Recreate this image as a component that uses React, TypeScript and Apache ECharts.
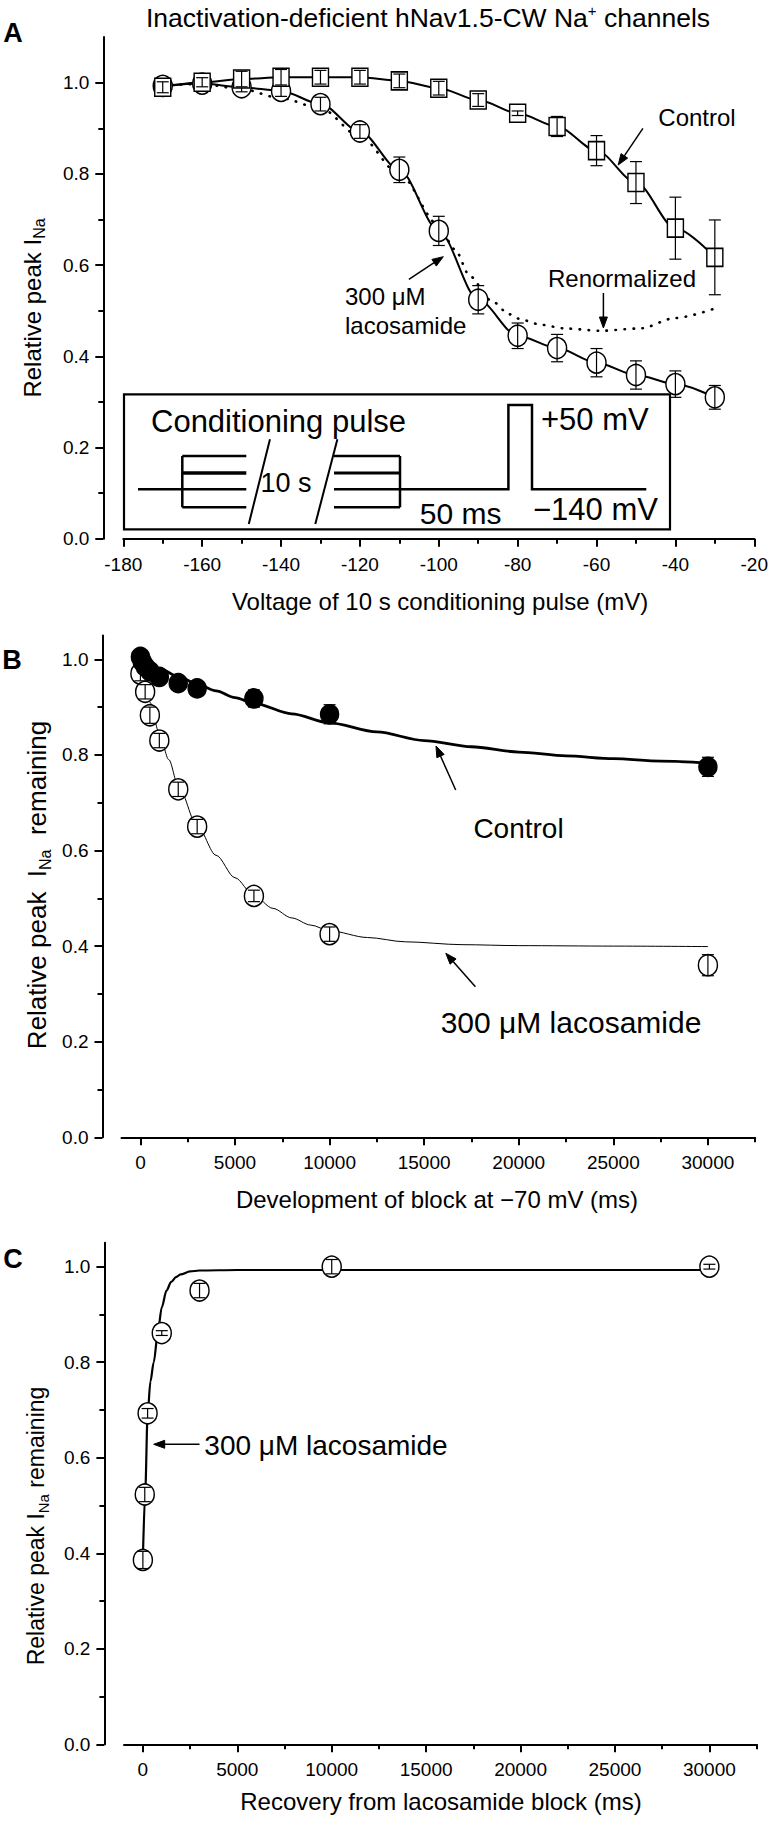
import React, { useEffect, useRef } from 'react';
import * as echarts from 'echarts';

const FONT = '"Liberation Sans", Arial, Helvetica, sans-serif';

// ---------- Panel A : voltage dependence ----------
const voltagesA = [-170, -160, -150, -140, -130, -120, -110, -100, -90, -80, -70, -60, -50, -40, -30];
const controlA = [0.990, 1.001, 1.008, 1.012, 1.012, 1.012, 1.004, 0.988, 0.962, 0.933, 0.904, 0.851, 0.781, 0.681, 0.617];
const controlAErr = [0.012, 0.01, 0.017, 0.017, 0.015, 0.015, 0.015, 0.015, 0.014, 0.005, 0.022, 0.033, 0.046, 0.068, 0.082];
const lacoA = [0.993, 0.998, 0.990, 0.982, 0.953, 0.893, 0.809, 0.675, 0.524, 0.445, 0.418, 0.386, 0.359, 0.339, 0.310];
const lacoAErr = [0.01, 0.005, 0.01, 0.012, 0.015, 0.015, 0.028, 0.032, 0.031, 0.028, 0.030, 0.031, 0.031, 0.029, 0.026];
const renormV = [-170, -160, -150, -140, -130, -120, -110, -100, -96, -92, -87, -82, -79, -74, -68, -59, -49, -40, -30];
const renormA = [0.995, 0.997, 0.986, 0.966, 0.944, 0.882, 0.800, 0.688, 0.635, 0.575, 0.524, 0.492, 0.480, 0.469, 0.461, 0.456, 0.461, 0.484, 0.505];
const xTicksA = [-180, -160, -140, -120, -100, -80, -60, -40, -20];
const xMinorA = [-170, -150, -130, -110, -90, -70, -50, -30];

// ---------- Panel B : development of block ----------
const timesBCtl = [0, 100, 250, 500, 1000, 2000, 3000, 6000, 10000, 30000];
const ctlB = [1.005, 0.995, 0.985, 0.975, 0.963, 0.950, 0.939, 0.918, 0.885, 0.775];
const ctlBErr = [0.01, 0.01, 0.01, 0.01, 0.01, 0.01, 0.012, 0.018, 0.02, 0.02];
const timesBLac = [0, 250, 500, 1000, 2000, 3000, 6000, 10000, 30000];
const lacB = [0.970, 0.932, 0.883, 0.830, 0.728, 0.650, 0.505, 0.425, 0.360];
const lacBErr = [0.015, 0.015, 0.017, 0.015, 0.015, 0.015, 0.012, 0.015, 0.022];
const fitTimesBCtl = [0, 1000, 2000, 3000, 4000, 5000, 6000, 8000, 10000, 12500, 15000, 17500, 20000, 22500, 25000, 27500, 30000];
const fitCtlB = [1.0, 0.981, 0.964, 0.948, 0.934, 0.920, 0.908, 0.886, 0.867, 0.848, 0.830, 0.817, 0.806, 0.798, 0.792, 0.787, 0.783];
const fitTimesBLac = [0, 250, 500, 1000, 1500, 2000, 3000, 4000, 5000, 6000, 7000, 8000, 9000, 10000, 12000, 14000, 17000, 20000, 25000, 30000];
const fitLacB = [0.99, 0.95, 0.91, 0.845, 0.79, 0.735, 0.652, 0.59, 0.543, 0.506, 0.479, 0.459, 0.444, 0.432, 0.418, 0.409, 0.403, 0.401, 0.400, 0.399];

// ---------- Panel C : recovery ----------
const timesC = [0, 100, 250, 1000, 3000, 10000, 30000];
const recC = [0.386, 0.523, 0.693, 0.861, 0.950, 1.0, 1.0];
const recCErr = [0.018, 0.015, 0.01, 0.005, 0.015, 0.015, 0.005];
const fitTimesC = [0, 125, 250, 400, 575, 800, 1000, 1250, 1500, 1750, 2000, 2500, 3000, 5000, 10000, 30000];
const fitC = [0.39, 0.53, 0.69, 0.76, 0.80, 0.865, 0.915, 0.95, 0.968, 0.978, 0.984, 0.99, 0.992, 0.993, 0.993, 0.993];

const xTicksMs = [0, 5000, 10000, 15000, 20000, 25000, 30000];
const xMinorMs = [2500, 7500, 12500, 17500, 22500, 27500, 32500];
const yTicks = [0, 0.2, 0.4, 0.6, 0.8, 1.0];
const yMinor = [0.1, 0.3, 0.5, 0.7, 0.9];

const pairs = (xs: number[], ys: number[]) => xs.map((x, i) => [x, ys[i]]);

function xAxisPair(grid: number, min: number, max: number, majors: number[], minors: number[]) {
  return [
    {
      type: 'value', gridIndex: grid, min, max, position: 'bottom',
      axisLine: { show: true, onZero: false, lineStyle: { color: '#000', width: 2 } },
      axisTick: { show: true, length: 8, lineStyle: { color: '#000', width: 2 }, customValues: majors },
      axisLabel: { show: true, customValues: majors, formatter: (v: number) => String(v), color: '#000', fontSize: 19, fontFamily: FONT, margin: 16 },
      splitLine: { show: false },
    },
    {
      type: 'value', gridIndex: grid, min, max, position: 'bottom',
      axisLine: { show: false, onZero: false },
      axisTick: { show: true, length: 5, lineStyle: { color: '#000', width: 2 }, customValues: minors },
      axisLabel: { show: false },
      splitLine: { show: false },
    },
  ];
}

function yAxisPair(grid: number, max: number, offset: number) {
  return [
    {
      type: 'value', gridIndex: grid, min: 0, max, position: 'left', offset,
      axisLine: { show: true, onZero: false, lineStyle: { color: '#000', width: 2 } },
      axisTick: { show: true, length: 8, lineStyle: { color: '#000', width: 2 }, customValues: yTicks },
      axisLabel: { show: true, customValues: yTicks, formatter: (v: number) => v.toFixed(1), color: '#000', fontSize: 19, fontFamily: FONT, margin: 14 },
      splitLine: { show: false },
    },
    {
      type: 'value', gridIndex: grid, min: 0, max, position: 'left', offset,
      axisLine: { show: false, onZero: false },
      axisTick: { show: true, length: 5, lineStyle: { color: '#000', width: 2 }, customValues: yMinor },
      axisLabel: { show: false },
      splitLine: { show: false },
    },
  ];
}

function errSeries(xs: number[], ys: number[], es: number[], axis: number, z: number) {
  return {
    type: 'custom', xAxisIndex: axis, yAxisIndex: axis, z, silent: true,
    data: xs.map((x, i) => [x, ys[i], es[i]]),
    encode: { x: 0, y: 1 },
    renderItem: (_p: any, api: any) => {
      const x = api.value(0), y = api.value(1), e = api.value(2);
      const t = api.coord([x, y + e]);
      const b = api.coord([x, y - e]);
      const hw = 6;
      const st = { stroke: '#000', lineWidth: 1.2, fill: 'none' };
      return {
        type: 'group',
        children: [
          { type: 'line', shape: { x1: t[0], y1: t[1], x2: b[0], y2: b[1] }, style: st },
          { type: 'line', shape: { x1: t[0] - hw, y1: t[1], x2: t[0] + hw, y2: t[1] }, style: st },
          { type: 'line', shape: { x1: b[0] - hw, y1: b[1], x2: b[0] + hw, y2: b[1] }, style: st },
        ],
      };
    },
  };
}

function lineSeries(xs: number[], ys: number[], axis: number, width: number, extra: any = {}) {
  return {
    type: 'line', xAxisIndex: axis, yAxisIndex: axis, z: 2, silent: true,
    data: pairs(xs, ys), showSymbol: false, symbol: 'none',
    smooth: 0.3, smoothMonotone: 'x',
    lineStyle: { color: '#000', width, ...extra },
  };
}

function scatterSeries(xs: number[], ys: number[], axis: number, symbol: string, size: any, fill: string, z: number) {
  return {
    type: 'scatter', xAxisIndex: axis, yAxisIndex: axis, z, silent: true,
    data: pairs(xs, ys), symbol, symbolSize: size,
    itemStyle: { color: fill, borderColor: '#000', borderWidth: 1.5, opacity: 1 },
  };
}

function txt(text: string, x: number, y: number, size: number, opts: any = {}) {
  return {
    type: 'text', x, y, rotation: opts.rot || 0, z: 100, silent: true,
    style: {
      text, fill: '#000', fontSize: size, fontFamily: FONT,
      fontWeight: opts.bold ? 'bold' : 'normal',
      align: opts.align || 'center', verticalAlign: 'middle',
      lineHeight: opts.lh, rich: opts.rich,
    },
  };
}

function arrow(x1: number, y1: number, x2: number, y2: number) {
  const a = Math.atan2(y2 - y1, x2 - x1);
  const L = 11, W = 4;
  const bx = x2 - L * Math.cos(a), by = y2 - L * Math.sin(a);
  return [
    { type: 'line', z: 100, silent: true, shape: { x1, y1, x2: bx, y2: by }, style: { stroke: '#000', lineWidth: 1.5 } },
    {
      type: 'polygon', z: 100, silent: true,
      shape: { points: [[x2, y2], [bx + W * Math.sin(a), by - W * Math.cos(a)], [bx - W * Math.sin(a), by + W * Math.cos(a)]] },
      style: { fill: '#000', stroke: '#000', lineWidth: 1 },
    },
  ];
}

function seg(x1: number, y1: number, x2: number, y2: number, w = 2.5) {
  return { type: 'line', z: 100, silent: true, shape: { x1, y1, x2, y2 }, style: { stroke: '#000', lineWidth: w } };
}

const subRich = (fs: number) => ({ sub: { fontSize: fs, fontFamily: FONT, fill: '#000', verticalAlign: 'bottom', lineHeight: fs } });

function buildOption() {
  const graphics: any[] = [
    // Title
    txt('Inactivation-deficient hNav1.5-CW Na{sup|+} channels', 428, 18, 26.5, {
      lh: 30, rich: { sup: { fontSize: 15, fontFamily: FONT, fill: '#000', verticalAlign: 'top', lineHeight: 15 } },
    }),
    txt('A', 13, 33, 27, { bold: true }),
    txt('B', 12, 660, 27, { bold: true }),
    txt('C', 13, 1259, 27, { bold: true }),
    // axis titles
    txt('Voltage of 10 s conditioning pulse (mV)', 440, 601, 24),
    txt('Relative peak I{sub|Na}', 32, 308, 24, { rot: Math.PI / 2, lh: 30, rich: subRich(16) }),
    txt('Development of block at \u221270 mV (ms)', 437, 1199, 24),
    txt('Relative peak  I{sub|Na}  remaining', 37, 885, 26, { rot: Math.PI / 2, lh: 32, rich: subRich(16) }),
    txt('Recovery from lacosamide block (ms)', 441, 1801, 24),
    txt('Relative peak I{sub|Na} remaining', 36, 1526, 23, { rot: Math.PI / 2, lh: 30, rich: subRich(15) }),
    // Panel A annotations
    txt('Control', 697, 117, 24),
    ...arrow(642.9, 128.3, 618.2, 165),
    txt('Renormalized', 622, 278, 24),
    ...arrow(603.4, 293, 603.4, 328),
    txt('300 \u03bcM', 345, 296, 24, { align: 'left' }),
    txt('lacosamide', 345, 325, 24, { align: 'left' }),
    ...arrow(408.9, 279.3, 443.3, 256.7),
    // Panel A inset (pulse protocol)
    { type: 'rect', z: 99, silent: true, shape: { x: 124, y: 394.3, width: 546, height: 135 }, style: { fill: 'none', stroke: '#000', lineWidth: 2.2 } },
    seg(138, 489.3, 246.3, 489.3),
    seg(182.3, 456, 182.3, 507.3),
    seg(182.3, 456, 246.3, 456),
    seg(182.3, 473, 246.3, 473, 3.5),
    seg(182.3, 507.3, 246.3, 507.3),
    seg(248.8, 524, 270, 439.3, 2),
    seg(315.3, 524, 337.4, 439.3, 2),
    seg(334, 456, 400, 456),
    seg(334, 473, 400, 473, 3),
    seg(334, 507.3, 400, 507.3),
    seg(400, 456, 400, 507.3),
    {
      type: 'polyline', z: 100, silent: true,
      shape: { points: [[334, 489.3], [508.4, 489.3], [508.4, 405], [532, 405], [532, 489.3], [646.3, 489.3]] },
      style: { stroke: '#000', lineWidth: 2.5, fill: 'none' },
    },
    txt('Conditioning pulse', 151, 421, 31, { align: 'left' }),
    txt('10 s', 286, 483, 27),
    txt('50 ms', 460.6, 513, 30),
    txt('+50 mV', 541, 419, 31, { align: 'left' }),
    txt('\u2212140 mV', 533, 509, 31, { align: 'left' }),
    // Panel B annotations
    txt('Control', 518.5, 828, 28),
    ...arrow(455.7, 790, 436, 746),
    txt('300 \u03bcM lacosamide', 571, 1022.5, 30),
    ...arrow(475.4, 986.7, 445.8, 953.3),
    // Panel C annotations
    txt('300 \u03bcM lacosamide', 326, 1445, 28),
    ...arrow(199.5, 1444.3, 153.7, 1444.3),
  ];

  return {
    animation: false,
    backgroundColor: '#fff',
    textStyle: { fontFamily: FONT, color: '#000' },
    grid: [
      { left: 123.3, width: 632.4, top: 37.1, height: 501.6, containLabel: false },
      { left: 121.5, width: 633.7, top: 635.4, height: 501.9, containLabel: false },
      { left: 124.0, width: 632.6, top: 1242.8, height: 501.5, containLabel: false },
    ],
    xAxis: [
      ...xAxisPair(0, -180, -20, xTicksA, xMinorA),
      ...xAxisPair(1, -1000, 32500, xTicksMs, xMinorMs),
      ...xAxisPair(2, -1000, 32500, xTicksMs, xMinorMs),
    ],
    yAxis: [
      ...yAxisPair(0, 1.1, 20),
      ...yAxisPair(1, 1.05, 19),
      ...yAxisPair(2, 1.05, 19.6),
    ],
    series: [
      // Panel A
      lineSeries(renormV, renormA, 0, 2.6, { type: [0.5, 8.5], cap: 'round' }),
      lineSeries(voltagesA, controlA, 0, 2),
      lineSeries(voltagesA, lacoA, 0, 2),
      scatterSeries(voltagesA, lacoA, 0, 'circle', [19, 21], '#fff', 3),
      errSeries(voltagesA, lacoA, lacoAErr, 0, 4),
      scatterSeries(voltagesA, controlA, 0, 'rect', [16, 18], '#fff', 5),
      errSeries(voltagesA, controlA, controlAErr, 0, 6),
      // Panel B
      lineSeries(fitTimesBLac, fitLacB, 2, 1),
      lineSeries(fitTimesBCtl, fitCtlB, 2, 2.8),
      scatterSeries(timesBLac, lacB, 2, 'circle', [19, 21], '#fff', 3),
      errSeries(timesBLac, lacB, lacBErr, 2, 4),
      scatterSeries(timesBCtl, ctlB, 2, 'circle', [18, 19], '#000', 5),
      errSeries(timesBCtl, ctlB, ctlBErr, 2, 6),
      // Panel C
      lineSeries(fitTimesC, fitC, 4, 2.2),
      scatterSeries(timesC, recC, 4, 'circle', [19, 21], '#fff', 3),
      errSeries(timesC, recC, recCErr, 4, 4),
    ],
    graphic: graphics,
  };
}

export default function App() {
  const ref = useRef<HTMLDivElement>(null);
  useEffect(() => {
    if (!ref.current) return;
    const chart = echarts.init(ref.current, null, { renderer: 'svg' });
    chart.setOption(buildOption() as any);
    return () => chart.dispose();
  }, []);
  return (
    <div
      ref={ref}
      style={{ position: 'absolute', left: 0, top: 0, width: 771, height: 1822, background: '#fff' }}
    />
  );
}
